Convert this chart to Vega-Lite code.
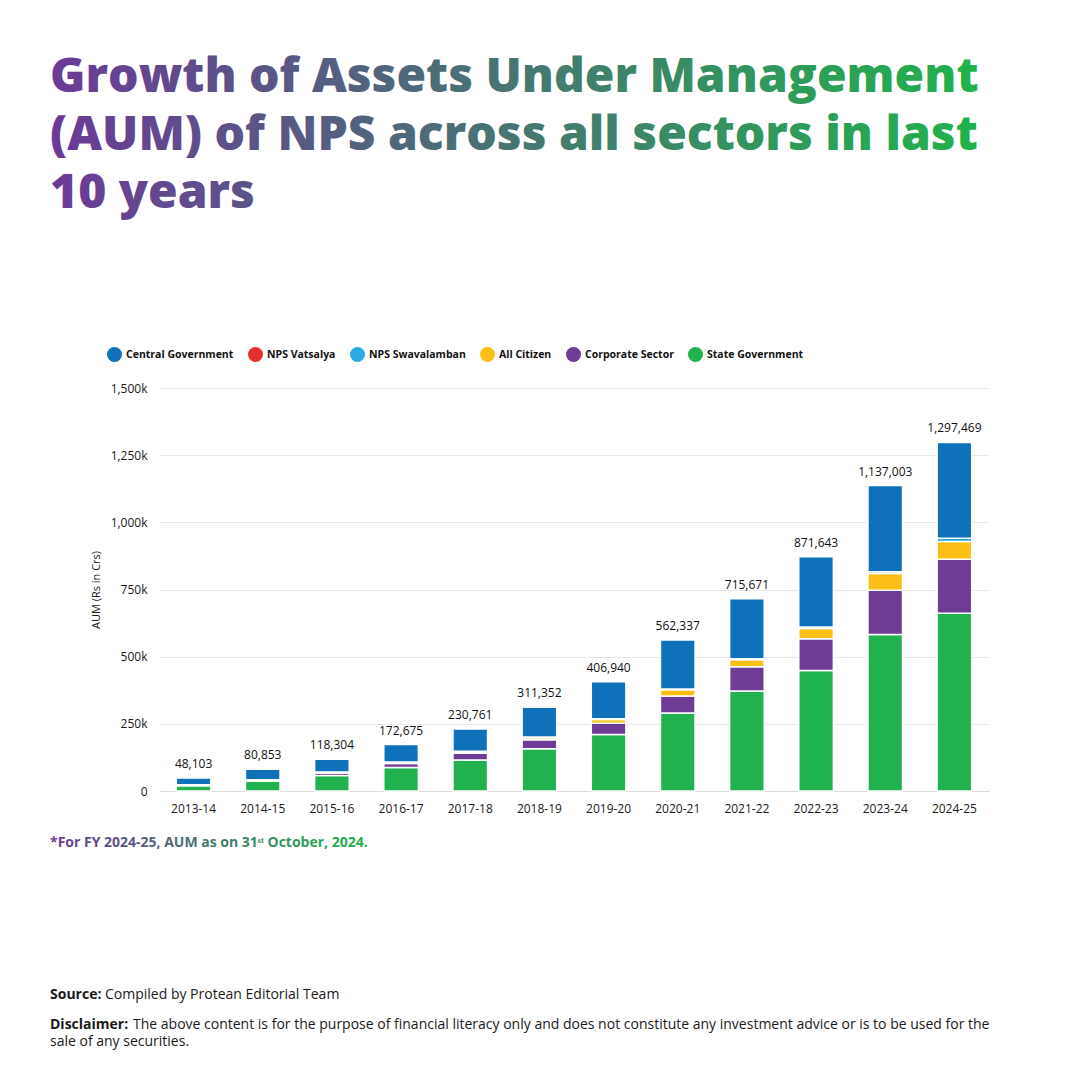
{
  "$schema": "https://vega.github.io/schema/vega-lite/v6.json",
  "background": "white",
  "padding": {"left": 50, "top": 54, "right": 10, "bottom": 10},
  "title": {
    "text": ["Growth of Assets Under Management", "(AUM) of NPS across all sectors in last", "10 years"],
    "anchor": "start",
    "frame": "bounds",
    "font": "Open Sans",
    "fontSize": 48,
    "fontWeight": 800,
    "lineHeight": 58,
    "color": {"value": {"gradient": "linear", "x1": 0, "y1": 0, "x2": 1, "y2": 0, "stops": [{"offset": 0, "color": "#6B3A97"}, {"offset": 1, "color": "#21B24C"}]}},
    "offset": 129
  },
  "spacing": 22,
  "config": {
    "view": {"stroke": null},
    "font": "Open Sans"
  },
  "vconcat": [
    {
      "width": 830,
      "height": 403,
      "data": {
        "values": [
          {"year": "2013-14", "sector": "State Government", "aum": 20000},
          {"year": "2013-14", "sector": "Corporate Sector", "aum": 2300},
          {"year": "2013-14", "sector": "All Citizen", "aum": 500},
          {"year": "2013-14", "sector": "NPS Swavalamban", "aum": 400},
          {"year": "2013-14", "sector": "Central Government", "aum": 24903},
          {"year": "2014-15", "sector": "State Government", "aum": 37500},
          {"year": "2014-15", "sector": "Corporate Sector", "aum": 2800},
          {"year": "2014-15", "sector": "All Citizen", "aum": 800},
          {"year": "2014-15", "sector": "NPS Swavalamban", "aum": 700},
          {"year": "2014-15", "sector": "Central Government", "aum": 39053},
          {"year": "2015-16", "sector": "State Government", "aum": 57800},
          {"year": "2015-16", "sector": "Corporate Sector", "aum": 9500},
          {"year": "2015-16", "sector": "All Citizen", "aum": 2500},
          {"year": "2015-16", "sector": "NPS Swavalamban", "aum": 1200},
          {"year": "2015-16", "sector": "Central Government", "aum": 47304},
          {"year": "2016-17", "sector": "State Government", "aum": 87700},
          {"year": "2016-17", "sector": "Corporate Sector", "aum": 14500},
          {"year": "2016-17", "sector": "All Citizen", "aum": 4000},
          {"year": "2016-17", "sector": "NPS Swavalamban", "aum": 1500},
          {"year": "2016-17", "sector": "Central Government", "aum": 64975},
          {"year": "2017-18", "sector": "State Government", "aum": 115700},
          {"year": "2017-18", "sector": "Corporate Sector", "aum": 25000},
          {"year": "2017-18", "sector": "All Citizen", "aum": 5500},
          {"year": "2017-18", "sector": "NPS Swavalamban", "aum": 1800},
          {"year": "2017-18", "sector": "Central Government", "aum": 82761},
          {"year": "2018-19", "sector": "State Government", "aum": 157500},
          {"year": "2018-19", "sector": "Corporate Sector", "aum": 32800},
          {"year": "2018-19", "sector": "All Citizen", "aum": 8300},
          {"year": "2018-19", "sector": "NPS Swavalamban", "aum": 2100},
          {"year": "2018-19", "sector": "Central Government", "aum": 110652},
          {"year": "2019-20", "sector": "State Government", "aum": 210100},
          {"year": "2019-20", "sector": "Corporate Sector", "aum": 41800},
          {"year": "2019-20", "sector": "All Citizen", "aum": 14300},
          {"year": "2019-20", "sector": "NPS Swavalamban", "aum": 2500},
          {"year": "2019-20", "sector": "Central Government", "aum": 138240},
          {"year": "2020-21", "sector": "State Government", "aum": 289900},
          {"year": "2020-21", "sector": "Corporate Sector", "aum": 63400},
          {"year": "2020-21", "sector": "All Citizen", "aum": 23400},
          {"year": "2020-21", "sector": "NPS Swavalamban", "aum": 3200},
          {"year": "2020-21", "sector": "Central Government", "aum": 182437},
          {"year": "2021-22", "sector": "State Government", "aum": 372000},
          {"year": "2021-22", "sector": "Corporate Sector", "aum": 90700},
          {"year": "2021-22", "sector": "All Citizen", "aum": 25800},
          {"year": "2021-22", "sector": "NPS Swavalamban", "aum": 4000},
          {"year": "2021-22", "sector": "Central Government", "aum": 223171},
          {"year": "2022-23", "sector": "State Government", "aum": 448500},
          {"year": "2022-23", "sector": "Corporate Sector", "aum": 117900},
          {"year": "2022-23", "sector": "All Citizen", "aum": 38700},
          {"year": "2022-23", "sector": "NPS Swavalamban", "aum": 5000},
          {"year": "2022-23", "sector": "Central Government", "aum": 261543},
          {"year": "2023-24", "sector": "State Government", "aum": 582100},
          {"year": "2023-24", "sector": "Corporate Sector", "aum": 165300},
          {"year": "2023-24", "sector": "All Citizen", "aum": 62000},
          {"year": "2023-24", "sector": "NPS Swavalamban", "aum": 6600},
          {"year": "2023-24", "sector": "Central Government", "aum": 321003},
          {"year": "2024-25", "sector": "State Government", "aum": 661600},
          {"year": "2024-25", "sector": "Corporate Sector", "aum": 200700},
          {"year": "2024-25", "sector": "All Citizen", "aum": 66100},
          {"year": "2024-25", "sector": "NPS Swavalamban", "aum": 12600},
          {"year": "2024-25", "sector": "NPS Vatsalya", "aum": 200},
          {"year": "2024-25", "sector": "Central Government", "aum": 356269}
        ]
      },
      "layer": [
        {
          "transform": [
            {"calculate": "indexof(['State Government','Corporate Sector','All Citizen','NPS Swavalamban','NPS Vatsalya','Central Government'], datum.sector)", "as": "stackOrder"}
          ],
          "mark": {"type": "bar", "stroke": "white", "strokeWidth": 1.5},
          "encoding": {
            "x": {
              "field": "year",
              "type": "ordinal",
              "scale": {"paddingInner": 0.5, "paddingOuter": 0.25},
              "axis": {
                "title": null,
                "labelAngle": 0,
                "domain": true,
                "domainColor": "#dddddd",
                "ticks": false,
                "labelPadding": 12,
                "labelFont": "Open Sans",
                "labelFontSize": 12,
                "labelColor": "#1a1a1a"
              }
            },
            "y": {
              "field": "aum",
              "type": "quantitative",
              "stack": "zero",
              "scale": {"domain": [0, 1500000], "nice": false},
              "axis": {
                "title": "AUM (Rs in Crs)",
                "values": [0, 250000, 500000, 750000, 1000000, 1250000, 1500000],
                "labelExpr": "datum.value == 0 ? '0' : format(datum.value / 1000, ',') + 'k'",
                "domain": false,
                "ticks": false,
                "grid": true,
                "gridColor": "#e8e8e8",
                "labelPadding": 12,
                "labelFont": "Open Sans",
                "labelFontSize": 12,
                "labelColor": "#1a1a1a",
                "titleFont": "Open Sans",
                "titleFontSize": 11,
                "titleFontWeight": "normal",
                "titleColor": "#1a1a1a",
                "titlePadding": 9
              }
            },
            "color": {
              "field": "sector",
              "type": "nominal",
              "scale": {
                "domain": ["Central Government", "NPS Vatsalya", "NPS Swavalamban", "All Citizen", "Corporate Sector", "State Government"],
                "range": ["#0F71BA", "#E4312F", "#29ABE2", "#FDBE16", "#6F3C95", "#22B14F"]
              },
              "legend": {
                "orient": "none",
                "legendX": -52,
                "legendY": -41,
                "direction": "horizontal",
                "columns": 6,
                "title": null,
                "padding": 0,
                "symbolType": "circle",
                "symbolSize": 225,
                "symbolStrokeWidth": 0,
                "symbolOpacity": 1,
                "labelFont": "Open Sans",
                "labelFontSize": 10.5,
                "labelFontWeight": "bold",
                "labelColor": "#111111",
                "labelOffset": 4,
                "columnPadding": 14
              }
            },
            "order": {"field": "stackOrder", "type": "quantitative", "sort": "ascending"}
          }
        },
        {
          "transform": [
            {"aggregate": [{"op": "sum", "field": "aum", "as": "total"}], "groupby": ["year"]}
          ],
          "mark": {"type": "text", "baseline": "alphabetic", "dy": -10, "font": "Open Sans", "fontSize": 12, "color": "#111111"},
          "encoding": {
            "x": {"field": "year", "type": "ordinal"},
            "y": {"field": "total", "type": "quantitative"},
            "text": {"field": "total", "type": "quantitative", "format": ","}
          }
        }
      ]
    },
    {
      "width": 830,
      "height": 200,
      "data": {
        "values": [
          {"part": "note", "text": "*For FY 2024-25, AUM as on 31ˢᵗ October, 2024."},
          {"part": "sourceLabel", "text": "Source:"},
          {"part": "source", "text": "Compiled by Protean Editorial Team"},
          {"part": "disclaimerLabel", "text": "Disclaimer:"},
          {"part": "disclaimer1", "text": "The above content is for the purpose of financial literacy only and does not constitute any investment advice or is to be used for the"},
          {"part": "disclaimer2", "text": "sale of any securities."}
        ]
      },
      "encoding": {
        "x": {"datum": 0, "type": "quantitative", "scale": {"domain": [0, 1]}, "axis": null},
        "text": {"field": "text", "type": "nominal"}
      },
      "layer": [
        {
          "transform": [{"filter": "datum.part == 'note'"}],
          "mark": {"type": "text", "align": "left", "baseline": "middle", "dx": -109, "font": "Open Sans", "fontSize": 14, "fontWeight": "bold",
            "color": {"gradient": "linear", "x1": 0, "y1": 0, "x2": 1, "y2": 0, "stops": [{"offset": 0, "color": "#6B3A97"}, {"offset": 1, "color": "#21B24C"}]}},
          "encoding": {"y": {"datum": 0, "type": "quantitative", "scale": {"domain": [0, 200], "range": [0, 200]}, "axis": null}}
        },
        {
          "transform": [{"filter": "datum.part == 'sourceLabel'"}],
          "mark": {"type": "text", "align": "left", "baseline": "middle", "dx": -109, "font": "Open Sans", "fontSize": 14, "fontWeight": "bold", "color": "#1a1a1a"},
          "encoding": {"y": {"datum": 152, "type": "quantitative"}}
        },
        {
          "transform": [{"filter": "datum.part == 'source'"}],
          "mark": {"type": "text", "align": "left", "baseline": "middle", "dx": -54, "font": "Open Sans", "fontSize": 14, "color": "#1a1a1a"},
          "encoding": {"y": {"datum": 152, "type": "quantitative"}}
        },
        {
          "transform": [{"filter": "datum.part == 'disclaimerLabel'"}],
          "mark": {"type": "text", "align": "left", "baseline": "middle", "dx": -109, "font": "Open Sans", "fontSize": 14, "fontWeight": "bold", "color": "#1a1a1a"},
          "encoding": {"y": {"datum": 182, "type": "quantitative"}}
        },
        {
          "transform": [{"filter": "datum.part == 'disclaimer1'"}],
          "mark": {"type": "text", "align": "left", "baseline": "middle", "dx": -26, "font": "Open Sans", "fontSize": 14, "color": "#1a1a1a"},
          "encoding": {"y": {"datum": 182, "type": "quantitative"}}
        },
        {
          "transform": [{"filter": "datum.part == 'disclaimer2'"}],
          "mark": {"type": "text", "align": "left", "baseline": "middle", "dx": -109, "font": "Open Sans", "fontSize": 14, "color": "#1a1a1a"},
          "encoding": {"y": {"datum": 199, "type": "quantitative"}}
        }
      ]
    }
  ]
}
